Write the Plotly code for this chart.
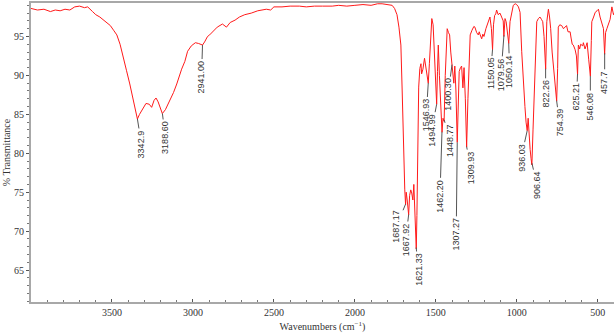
import numpy as np
import plotly.graph_objects as go

# Spectrum (wavenumber cm-1, % transmittance)
wavenumber = [4000, 3960, 3920, 3880, 3850, 3820, 3790, 3760, 3730, 3700, 3670, 3650, 3620, 3600, 3575,
              3540, 3510, 3490, 3470, 3450, 3433, 3410, 3390, 3370, 3355, 3343, 3330, 3310, 3290, 3270,
              3255, 3240, 3228, 3215, 3200, 3189, 3170, 3144, 3120, 3100, 3085, 3070, 3050, 3033, 3010,
              2985, 2965, 2941, 2928, 2910, 2897, 2880, 2850, 2818, 2800, 2793, 2770, 2740, 2713, 2680,
              2640, 2600, 2547, 2520, 2500, 2450, 2400, 2343, 2300, 2250, 2200, 2140, 2100, 2050, 2000,
              1950, 1900, 1860, 1832, 1800, 1770, 1755, 1740, 1728, 1716, 1708, 1703, 1697, 1692, 1687,
              1683, 1677, 1672, 1668, 1662, 1655, 1649, 1642, 1636, 1630, 1624, 1621, 1617, 1612, 1606,
              1599, 1592, 1588, 1580, 1570, 1562, 1555, 1547, 1540, 1532, 1525, 1517, 1510, 1503, 1495,
              1490, 1485, 1478, 1470, 1462, 1456, 1449, 1442, 1435, 1430, 1422, 1415, 1408, 1401, 1395,
              1389, 1383, 1376, 1368, 1362, 1356, 1348, 1341, 1333, 1326, 1318, 1310, 1302, 1295, 1288,
              1277, 1265, 1259, 1248, 1238, 1232, 1228, 1217, 1210, 1203, 1191, 1177, 1166, 1157, 1150,
              1144, 1137, 1130, 1125, 1115, 1104, 1094, 1084, 1080, 1073, 1066, 1058, 1050, 1042, 1030,
              1022, 1010, 1001, 990, 980, 970, 960, 950, 943, 936, 930, 925, 918, 912, 907,
              900, 895, 888, 877, 867, 857, 848, 840, 832, 826, 822, 815, 805, 798, 791,
              782, 774, 764, 760, 754, 748, 744, 735, 723, 712, 702, 693, 684, 671, 665,
              658, 651, 645, 640, 632, 625, 620, 612, 606, 599, 593, 589, 579, 572, 566,
              556, 546, 540, 537, 526, 516, 505, 496, 486, 475, 465, 458, 452, 444, 434,
              424, 413, 403, 400]
transmittance = [98.6, 98.4, 98.5, 98.2, 98.4, 98.3, 98.5, 98.4, 98.8, 98.9, 98.7, 98.8, 98.2, 97.8, 97.5,
                 96.9, 96.4, 95.8, 95.2, 94.0, 92.7, 90.6, 88.9, 86.8, 85.4, 84.4, 85.0, 85.8, 86.4, 86.3,
                 85.9, 86.8, 87.1, 86.6, 85.7, 85.1, 85.6, 86.7, 87.8, 88.9, 89.9, 90.8, 91.8, 93.1, 93.8,
                 94.2, 94.1, 93.9, 94.3, 95.0, 95.2, 95.6, 96.2, 96.6, 96.3, 96.2, 96.8, 97.1, 97.5, 97.8,
                 98.0, 98.3, 98.5, 98.4, 98.8, 98.8, 98.9, 98.9, 98.8, 98.9, 98.9, 98.9, 99.0, 98.9, 99.0,
                 99.1, 99.0, 99.2, 99.2, 99.1, 99.0, 98.6, 97.8, 96.2, 93.9, 88.0, 83.3, 78.5, 75.3, 73.4,
                 75.0, 74.0, 73.0, 72.1, 74.6, 75.3, 74.9, 74.0, 76.0, 73.0, 69.5, 67.7, 72.0, 82.0, 88.5,
                 90.9, 91.5, 90.2, 90.8, 92.2, 91.0, 90.0, 89.0, 91.5, 95.5, 97.3, 96.5, 93.0, 89.0, 86.3,
                 90.5, 93.9, 90.0, 85.0, 82.7, 84.5, 84.1, 90.0, 94.5, 96.0, 95.5, 95.2, 93.0, 91.5, 90.5,
                 89.0, 91.2, 88.0, 81.4, 88.0, 90.5, 91.0, 91.2, 88.4, 91.0, 87.0, 80.8, 87.0, 93.0, 95.2,
                 95.8, 96.3, 96.2, 95.5, 95.2, 95.6, 95.3, 94.7, 95.3, 95.0, 96.0, 96.9, 97.5, 96.0, 93.3,
                 96.5, 97.7, 97.9, 98.4, 97.8, 98.0, 97.5, 97.0, 95.0, 97.3, 96.9, 95.5, 94.1, 96.9, 98.3,
                 99.0, 99.2, 99.1, 98.8, 98.1, 93.1, 88.9, 86.0, 84.0, 82.9, 84.5, 82.0, 80.5, 79.3, 78.5,
                 83.0, 86.7, 91.0, 96.9, 97.3, 97.5, 97.2, 96.9, 95.0, 91.5, 90.8, 96.9, 98.5, 97.5, 96.0,
                 93.0, 90.9, 88.5, 87.5, 86.7, 90.9, 96.2, 96.5, 96.4, 96.0, 96.2, 96.4, 95.6, 95.6, 94.8,
                 94.0, 93.9, 93.6, 93.3, 92.5, 90.1, 93.9, 93.4, 94.0, 93.9, 93.8, 94.2, 93.4, 93.8, 94.2,
                 92.0, 89.9, 94.5, 96.9, 97.5, 98.1, 98.3, 98.5, 97.5, 96.8, 96.0, 92.7, 95.5, 96.0, 96.5,
                 97.2, 98.8, 97.8, 98.0]

# Peak annotations
peak_wn = [3342.9, 3188.6, 2941.0, 1687.17, 1667.92, 1621.33, 1546.93, 1494.99, 1462.20, 1448.77,
           1400.30, 1368.0, 1309.93, 1150.05, 1079.56, 1050.14, 936.03, 906.64, 822.26, 754.39,
           625.21, 546.08, 457.7]
peak_labels = ["3342.9", "3188.60", "2941.00", "1687.17", "1667.92", "1621.33", "1546.93", "1494.99",
               "1462.20", "1448.77", "1400.30", "1307.27", "1309.93", "1150.05", "1079.56", "1050.14",
               "936.03", "906.64", "822.26", "754.39", "625.21", "546.08", "457.7"]
label_dx = [4, 3, -1, -9, -3, 2, -2, -5, -2, 6, -4, -1, 4, -2, -3, 1, -6, 5, 0, 3, -1, 0, 0]
label_dy = [25, 24, 32, 22, 25, 22, 32, 26, 64, 21, 30, 92, 21, 24, 39, 28, 27, 22, 25, 22, 23, 30, 29]

x_ticks = [3500, 3000, 2500, 2000, 1500, 1000, 500]
y_ticks = [65, 70, 75, 80, 85, 90, 95]

wn_arr = np.array(wavenumber[::-1], dtype=float)
t_arr = np.array(transmittance[::-1], dtype=float)

fig = go.Figure()
fig.add_trace(go.Scatter(x=wavenumber, y=transmittance, mode="lines",
                         line=dict(color="#ff1a1a", width=1), showlegend=False))

annos = []
for wn, lab, dx, dy in zip(peak_wn, peak_labels, label_dx, label_dy):
    annos.append(dict(x=wn, y=float(np.interp(wn, wn_arr, t_arr)), xref="x", yref="y",
                      text=lab, textangle=-90, showarrow=True, arrowhead=0, arrowwidth=1,
                      arrowcolor="#555555", ax=dx, ay=dy, standoff=0,
                      font=dict(family="Liberation Sans", size=9, color="#333333")))

axis_font = dict(family="Liberation Serif", size=10, color="#333333")
fig.update_layout(
    width=616, height=333,
    margin=dict(l=31, r=2, t=1, b=29),
    paper_bgcolor="white", plot_bgcolor="white",
    annotations=annos,
    xaxis=dict(range=[4000, 400], tickvals=x_ticks, showgrid=False, zeroline=False,
               showline=True, linecolor="#a8a8a8", linewidth=2, mirror=True,
               ticks="inside", ticklen=3, tickcolor="#555555", tickfont=axis_font,
               minor=dict(dtick=100, ticks="inside", ticklen=2, tickcolor="#777777", showgrid=False),
               title=dict(text="Wavenumbers (cm<sup>−1</sup>)", font=axis_font, standoff=7)),
    yaxis=dict(range=[60.9, 99.3], tickvals=y_ticks, showgrid=False, zeroline=False,
               showline=True, linecolor="#a8a8a8", linewidth=2,
               ticks="outside", ticklen=3, tickcolor="#555555", tickfont=axis_font,
               minor=dict(dtick=1, ticks="outside", ticklen=2, tickcolor="#777777", showgrid=False),
               title=dict(text="% Transmittance", font=axis_font, standoff=2)),
)
fig.write_html("out.html")
